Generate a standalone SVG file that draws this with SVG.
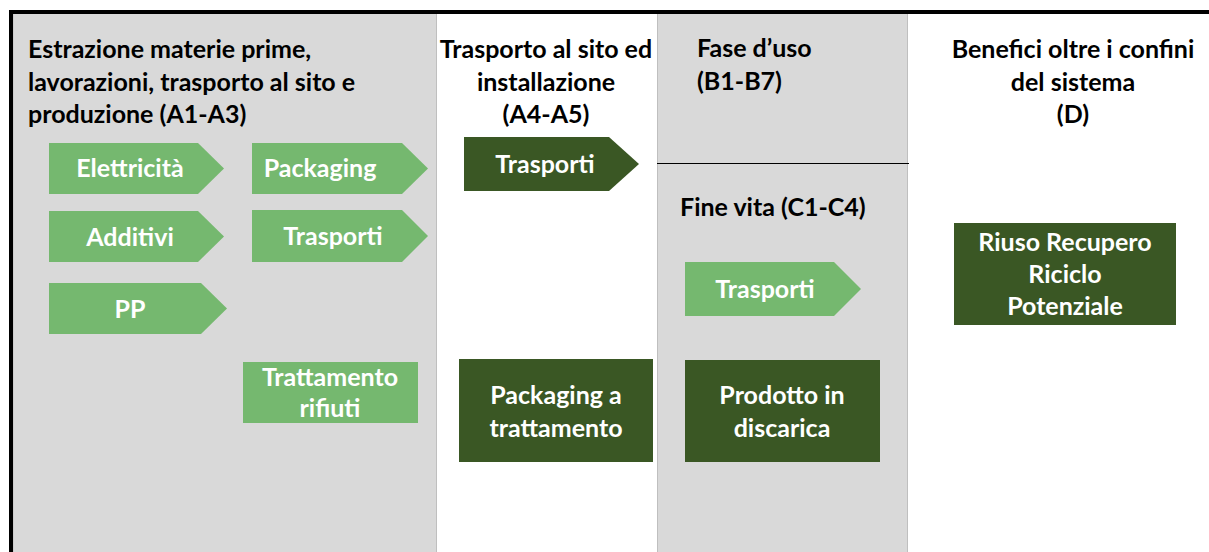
<svg xmlns="http://www.w3.org/2000/svg" width="1209" height="552" viewBox="0 0 1209 552">
<style>
.h{font-family:Lato,"Liberation Sans",sans-serif;font-weight:bold;font-size:25px;fill:#000}
.t{font-family:Lato,"Liberation Sans",sans-serif;font-weight:bold;font-size:25px;fill:#fff;text-anchor:middle}
.lg{fill:#75B86F}
.dg{fill:#3A5724}
.panel{fill:#D9D9D9;stroke:#BFBFBF;stroke-width:1}
</style>
<rect width="1209" height="552" fill="#fff"/>
<g id="panels">
<rect class="panel" x="13" y="12" width="423.5" height="545"/>
<rect class="panel" x="657.5" y="12" width="250" height="545"/>
<line x1="657" y1="163.5" x2="909" y2="163.5" stroke="#000" stroke-width="1"/>
<line x1="9" y1="12" x2="1209" y2="12" stroke="#000" stroke-width="4"/>
<line x1="11" y1="10" x2="11" y2="552" stroke="#000" stroke-width="4"/>
</g>
<g id="headings">
<text class="h" x="28" y="58">Estrazione materie prime,</text>
<text class="h" x="28" y="91">lavorazioni, trasporto al sito e</text>
<text class="h" x="28" y="123">produzione (A1-A3)</text>
<text class="h" x="546" y="58" text-anchor="middle">Trasporto al sito ed</text>
<text class="h" x="546" y="91" text-anchor="middle">installazione</text>
<text class="h" x="546" y="123" text-anchor="middle">(A4-A5)</text>
<text class="h" x="697" y="57">Fase d’uso</text>
<text class="h" x="697" y="90">(B1-B7)</text>
<text class="h" x="680" y="216">Fine vita (C1-C4)</text>
<text class="h" x="1073" y="58" text-anchor="middle">Benefici oltre i confini</text>
<text class="h" x="1073" y="91" text-anchor="middle">del sistema</text>
<text class="h" x="1073" y="123" text-anchor="middle">(D)</text>
</g>
<g id="connectors"></g>
<g id="n-elettricita"><polygon class="lg" points="49,143 198,143 224,168.5 198,194 49,194"/><text class="t" x="130" y="177">Elettricità</text></g>
<g id="n-additivi"><polygon class="lg" points="49,211 198,211 224,236.5 198,262 49,262"/><text class="t" x="130" y="246">Additivi</text></g>
<g id="n-pp"><polygon class="lg" points="49,283 201,283 227,308.5 201,334 49,334"/><text class="t" x="130" y="318">PP</text></g>
<g id="n-packaging"><polygon class="lg" points="252,143 402,143 428,168.5 402,194 252,194"/><text class="t" x="320" y="177">Packaging</text></g>
<g id="n-trasporti-a"><polygon class="lg" points="252,210 402,210 428,236 402,262 252,262"/><text class="t" x="333" y="245">Trasporti</text></g>
<g id="n-trattamento"><rect class="lg" x="243" y="362" width="175" height="61"/><text class="t" x="330" y="386">Trattamento</text><text class="t" x="330" y="417">rifiuti</text></g>
<g id="n-trasporti-b"><polygon class="dg" points="464,137 609,137 639,164 609,191 464,191"/><text class="t" x="545" y="173">Trasporti</text></g>
<g id="n-packaging-tratt"><rect class="dg" x="459" y="359" width="194" height="103"/><text class="t" x="556" y="404">Packaging a</text><text class="t" x="556" y="437">trattamento</text></g>
<g id="n-trasporti-c"><polygon class="lg" points="685,262 834,262 861,289 834,316 685,316"/><text class="t" x="765" y="298">Trasporti</text></g>
<g id="n-prodotto"><rect class="dg" x="685" y="360" width="195" height="102"/><text class="t" x="782" y="404">Prodotto in</text><text class="t" x="782" y="437">discarica</text></g>
<g id="n-riuso"><rect class="dg" x="954" y="223" width="222" height="102"/><text class="t" x="1065" y="251">Riuso Recupero</text><text class="t" x="1065" y="283">Riciclo</text><text class="t" x="1065" y="315">Potenziale</text></g>
</svg>
